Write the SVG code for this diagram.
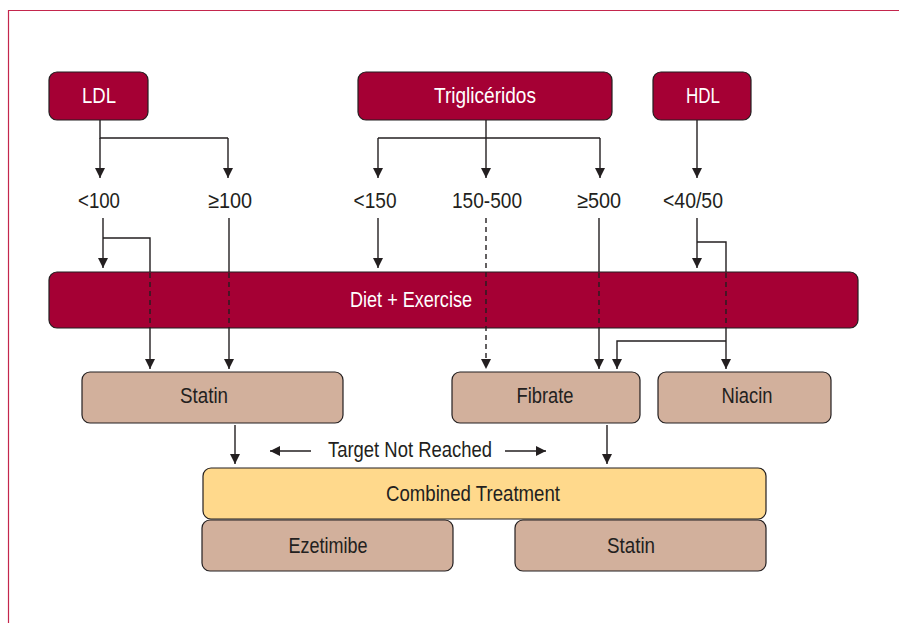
<svg xmlns="http://www.w3.org/2000/svg" width="899" height="623" viewBox="0 0 899 623">
<defs>
<marker id="ah" viewBox="0 0 10 10" refX="10" refY="5" markerWidth="10" markerHeight="10" markerUnits="userSpaceOnUse" orient="auto">
<path d="M0,0 L10,5 L0,10 z" fill="#231f20"/>
</marker>
<style>
text{font-family:"Liberation Sans",Arial,sans-serif;font-size:22px;text-anchor:middle}
.red rect{fill:#a50034;stroke:#231f20;stroke-width:1.2}
.red text{fill:#fff}
.tan rect{fill:#d2b09c;stroke:#231f20;stroke-width:1.2}
.tan text,.lbl{fill:#231f20}
.yel rect{fill:#ffd98c;stroke:#231f20;stroke-width:1.2}
.yel text{fill:#231f20}
.c{fill:none;stroke:#231f20;stroke-width:1.4}
.a{marker-end:url(#ah)}
.d{stroke-dasharray:5,4}
</style>
</defs>
<rect width="899" height="623" fill="#fff"/>
<path d="M899,10.5 H8.5 V623" fill="none" stroke="#c4264d" stroke-width="1.2"/>

<g id="ldl" class="red"><rect x="49" y="72" width="99" height="48" rx="8"/><text x="99" y="103" textLength="34" lengthAdjust="spacingAndGlyphs">LDL</text></g>
<g id="trig" class="red"><rect x="358" y="72" width="254" height="48" rx="8"/><text x="485" y="103" textLength="102" lengthAdjust="spacingAndGlyphs">Triglicéridos</text></g>
<g id="hdl" class="red"><rect x="653" y="72" width="98" height="48" rx="8"/><text x="703" y="103" textLength="34" lengthAdjust="spacingAndGlyphs">HDL</text></g>

<g id="l-lt100"><text class="lbl" x="99" y="208" textLength="42" lengthAdjust="spacingAndGlyphs">&lt;100</text></g>
<g id="l-ge100"><text class="lbl" x="230" y="208" textLength="44" lengthAdjust="spacingAndGlyphs">≥100</text></g>
<g id="l-lt150"><text class="lbl" x="375" y="208" textLength="43" lengthAdjust="spacingAndGlyphs">&lt;150</text></g>
<g id="l-150-500"><text class="lbl" x="487" y="208" textLength="70" lengthAdjust="spacingAndGlyphs">150-500</text></g>
<g id="l-ge500"><text class="lbl" x="599" y="208" textLength="44" lengthAdjust="spacingAndGlyphs">≥500</text></g>
<g id="l-lt40"><text class="lbl" x="693" y="208" textLength="60" lengthAdjust="spacingAndGlyphs">&lt;40/50</text></g>

<g id="diet" class="red"><rect x="49" y="272" width="809" height="56" rx="8"/><text x="411" y="307" textLength="122" lengthAdjust="spacingAndGlyphs">Diet + Exercise</text></g>

<g id="statin" class="tan"><rect x="82" y="372" width="261" height="51" rx="8"/><text x="204" y="403" textLength="48" lengthAdjust="spacingAndGlyphs">Statin</text></g>
<g id="fibrate" class="tan"><rect x="452" y="372" width="188" height="51" rx="8"/><text x="545" y="403" textLength="57" lengthAdjust="spacingAndGlyphs">Fibrate</text></g>
<g id="niacin" class="tan"><rect x="658" y="372" width="173" height="51" rx="8"/><text x="747" y="403" textLength="51" lengthAdjust="spacingAndGlyphs">Niacin</text></g>

<g id="target"><text class="lbl" x="410" y="457" textLength="164" lengthAdjust="spacingAndGlyphs">Target Not Reached</text></g>

<g id="combined" class="yel"><rect x="203" y="468" width="563" height="51" rx="8"/><text x="473" y="501" textLength="174" lengthAdjust="spacingAndGlyphs">Combined Treatment</text></g>
<g id="ezetimibe" class="tan"><rect x="202" y="520" width="251" height="51" rx="8"/><text x="328" y="553" textLength="79" lengthAdjust="spacingAndGlyphs">Ezetimibe</text></g>
<g id="statin2" class="tan"><rect x="515" y="520" width="251" height="51" rx="8"/><text x="631" y="553" textLength="48" lengthAdjust="spacingAndGlyphs">Statin</text></g>

<g id="connectors">
<path class="c" d="M100,120 V138 H228"/>
<path class="c a" d="M100,138 V178"/>
<path class="c a" d="M228,138 V178"/>
<path class="c a" d="M486,120 V178"/>
<path class="c" d="M378,138 H600"/>
<path class="c a" d="M378,138 V178"/>
<path class="c a" d="M600,138 V178"/>
<path class="c a" d="M697,120 V178"/>
<path class="c a" d="M103,218 V268"/>
<path class="c" d="M103,238 H150 V272"/>
<path class="c d" d="M150,273 V328"/>
<path class="c a" d="M150,328 V369"/>
<path class="c" d="M229,218 V272"/>
<path class="c d" d="M229,273 V328"/>
<path class="c a" d="M229,328 V369"/>
<path class="c a" d="M378,218 V268"/>
<path class="c d a" d="M486,218 V369"/>
<path class="c" d="M599,218 V272"/>
<path class="c d" d="M599,273 V328"/>
<path class="c a" d="M599,328 V369"/>
<path class="c a" d="M697,218 V268"/>
<path class="c" d="M697,242 H726 V272"/>
<path class="c d" d="M726,273 V328"/>
<path class="c a" d="M726,328 V369"/>
<path class="c a" d="M726,341 H617 V369"/>
<path class="c a" d="M235,425 V464"/>
<path class="c a" d="M607,425 V464"/>
<path class="c a" d="M311,451 H270"/>
<path class="c a" d="M505,451 H546"/>
</g>
</svg>
